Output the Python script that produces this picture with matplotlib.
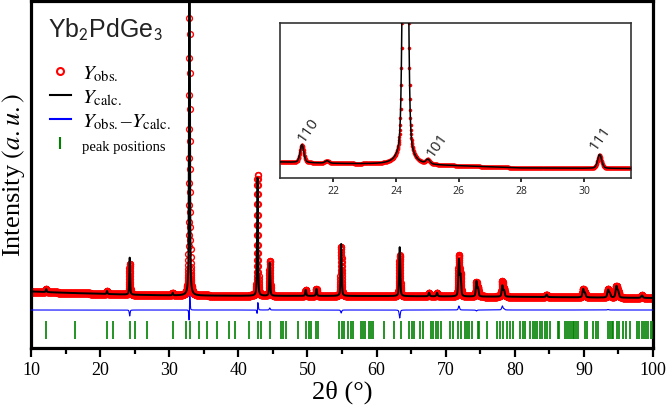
import numpy as np
import matplotlib
matplotlib.use('Agg')
import matplotlib.pyplot as plt
from matplotlib.lines import Line2D
from matplotlib.ticker import MultipleLocator

plt.rcParams['font.family'] = ['Liberation Serif', 'DejaVu Serif']
plt.rcParams['mathtext.fontset'] = 'stix'

# ---------------- main pattern data ----------------
x_start, x_stop, x_step = 10.0, 100.0, 0.01

calc_peak_pos = [12.2, 21.0, 24.28, 30.5, 32.93, 42.78, 44.55, 49.75, 51.3, 54.88,
                 63.35, 67.6, 68.75, 71.92, 72.15, 74.45, 74.68, 78.2, 78.45, 84.6,
                 89.9, 90.15, 93.5, 93.75, 94.7, 94.95, 98.4]
obs_peak_pos = [12.2, 21.0, 24.28, 30.5, 32.933, 42.785, 44.55, 49.75, 51.3, 54.88,
                63.35, 67.6, 68.75, 71.92, 72.15, 74.45, 74.68, 78.2, 78.45, 84.6,
                89.9, 90.15, 93.5, 93.75, 94.7, 94.95, 98.4]
calc_peak_height = [3, 3, 37, 2.5, 420, 118, 33, 6, 7, 52,
                    49, 3.5, 3.5, 36, 20, 15, 8, 11, 6, 2.5,
                    8, 4, 7.5, 4, 11, 6, 2.5]
obs_peak_height = [3, 3, 31, 2.5, 423, 121, 35, 6, 7, 49,
                   41, 3.5, 3.5, 40, 20, 14, 8, 15, 7, 2.5,
                   8, 4, 8, 4, 11, 6, 2.5]
peak_fwhm = [0.15, 0.15, 0.14, 0.15, 0.14, 0.15, 0.16, 0.17, 0.17, 0.17,
             0.18, 0.2, 0.2, 0.2, 0.2, 0.2, 0.2, 0.22, 0.22, 0.24,
             0.25, 0.25, 0.26, 0.26, 0.26, 0.26, 0.28]

bg_x = [10, 15, 20, 25, 30, 40, 60, 80, 100]
bg_y = [4.5, 3.2, 2.2, 1.2, 0.6, 0.2, 0.0, -0.8, -2.0]

diff_offset = -14
tick_low, tick_high = -43, -25

reflection_pos = [12.15, 16.4, 21.02, 21.9, 24.32, 25.05, 26.72, 30.55, 32.4, 33.05,
                  34.33, 35.42, 36.87, 38.62, 39.5, 41.5, 42.9, 43.25, 44.62, 46.12,
                  46.42, 46.95, 48.6, 49.85, 50.2, 50.5, 51.25, 51.55,
                  54.61, 54.95, 55.29, 55.91, 56.25, 56.64, 57.75, 58.08, 58.33, 58.95,
                  59.19, 59.53, 61.07, 62.52, 63.49, 64.69, 65.08, 65.42, 66.28, 66.67,
                  67.83, 68.21, 68.6, 68.94, 69.32, 70.63, 71.01, 71.74, 72.17, 72.8,
                  73.13, 73.42, 73.76, 74.63, 74.87, 75.93, 77.38, 77.86, 78.34, 78.83,
                  79.31, 79.7, 80.76, 81.14, 81.48, 82.2, 82.59, 82.93, 83.26, 83.65,
                  83.99, 84.37, 84.71, 85.1, 86.3, 86.45, 87.27, 87.61, 87.9, 88.09,
                  88.38, 88.57, 88.86, 89.2, 90.16, 90.4, 91.37, 91.71, 92.09, 93.54,
                  93.78, 94.02, 94.26, 94.84, 95.13, 95.71, 96.1, 96.68, 97.74, 98.03,
                  98.36, 98.7, 98.99, 99.33, 99.67, 99.96]

x_ticks = [10, 20, 30, 40, 50, 60, 70, 80, 90, 100]

# ---------------- inset data ----------------
inset_start, inset_stop, inset_step = 20.3, 31.5, 0.008
inset_peak_pos = [21.0, 21.8, 24.3, 25.02, 30.5]
inset_calc_height = [18, 2.5, 700, 4.5, 14]
inset_obs_height = [18, 2.5, 700, 4.0, 13]
inset_fwhm = [0.14, 0.14, 0.14, 0.14, 0.15]
inset_bg_x = [20.3, 22, 24, 26, 28, 31.5]
inset_bg_y = [16, 14.5, 13.3, 12, 10, 9.5]
inset_ticks = [22, 24, 26, 28, 30]
inset_labels = ['110', '101', '111']
inset_label_x = [21.19, 25.31, 30.51]
inset_label_y = [49, 34, 41]


def profile(x, pos, height, fwhm, eta=0.45):
    y = np.zeros_like(x)
    for p, h, f in zip(pos, height, fwhm):
        d = (x - p) / f
        y += h * (eta / (1 + 4 * d ** 2) + (1 - eta) * np.exp(-4 * np.log(2) * d ** 2))
    return y


x = np.arange(x_start, x_stop + x_step / 2, x_step)
bg = np.interp(x, bg_x, bg_y)
calc = bg + profile(x, calc_peak_pos, calc_peak_height, peak_fwhm)
obs = bg + profile(x, obs_peak_pos, obs_peak_height, peak_fwhm)
diff = obs - calc

xi = np.arange(inset_start, inset_stop + inset_step / 2, inset_step)
bgi = np.interp(xi, inset_bg_x, inset_bg_y)
calc_i = bgi + profile(xi, inset_peak_pos, inset_calc_height, inset_fwhm, eta=0.3)
obs_i = bgi + profile(xi, inset_peak_pos, inset_obs_height, inset_fwhm, eta=0.3)

# ---------------- figure ----------------
fig = plt.figure(figsize=(6.66, 4.10), dpi=100)
ax = fig.add_axes([31 / 666, (410 - 349) / 410, 622 / 666, 347.5 / 410])

ax.plot(x, obs, 'o', mfc='none', mec='red', ms=4.2, mew=1.0, zorder=2)
ax.plot(x, calc, '-', color='black', lw=1.4, zorder=3)
ax.plot(x, diff + diff_offset, '-', color='blue', lw=0.8, zorder=3)
ax.vlines(reflection_pos, tick_low, tick_high, color='green', lw=1.2, zorder=3)

ax.set_xlim(10, 100)
ax.set_ylim(-52, 295.5)
ax.set_xticks(x_ticks)
ax.xaxis.set_minor_locator(MultipleLocator(5))
ax.set_yticks([])
ax.tick_params(axis='x', which='major', direction='out', length=6.5, width=1.6,
               labelsize=13, pad=3)
ax.tick_params(axis='x', which='minor', direction='out', length=4.5, width=1.6)
for s in ax.spines.values():
    s.set_linewidth(2.3)

ax.set_xlabel('2θ (°)', fontsize=19, labelpad=1)
ax.set_ylabel(r'Intensity $(a.u.)$', fontsize=19, labelpad=3)

ax.text(0.027, 0.895, r'Yb$_{\mathsf{2}}$PdGe$_{\mathsf{3}}$', transform=ax.transAxes,
        fontsize=18, family=['Liberation Sans', 'DejaVu Sans'], va='baseline',
        color='#222222')

handles = [
    Line2D([], [], ls='none', marker='o', mfc='white', mec='red', ms=5, mew=1.5),
    Line2D([], [], color='black', lw=1.5),
    Line2D([], [], color='blue', lw=1.5),
    Line2D([], [], ls='none', marker='|', color='green', ms=9, mew=1.5),
]
labels = [r'$Y_{\rm obs.}$', r'$Y_{\rm calc.}$', r'$Y_{\rm obs.}$–$Y_{\rm calc.}$',
          'peak positions']
leg = ax.legend(handles, labels, loc='upper left', bbox_to_anchor=(0.0305, 0.818),
                frameon=False, fontsize=15, borderaxespad=0, borderpad=0,
                handlelength=1.0, handletextpad=0.55, labelspacing=0.2)
leg.get_texts()[3].set_fontsize(10.5)

# ---------------- inset ----------------
ins = fig.add_axes([280 / 666, (410 - 179) / 410, 351 / 666, 155 / 410])
ins.set_facecolor('white')
ins.plot(xi, obs_i, 'o', color='red', ms=2.6, mew=0, zorder=2)
ins.plot(xi, calc_i, '-', color='black', lw=1.1, zorder=3)
ins.set_xlim(inset_start, inset_stop)
ins.set_ylim(0, 155)
ins.set_xticks(inset_ticks)
ins.set_yticks([])
ins.tick_params(axis='x', direction='out', length=3, width=1.3, labelsize=7.5, pad=2,
                colors='#222222')
for lab in ins.get_xticklabels():
    lab.set_family(['Open Sans', 'DejaVu Sans'])
for s in ins.spines.values():
    s.set_linewidth(1.2)
    s.set_color('#333333')
for t, lx, ly in zip(inset_labels, inset_label_x, inset_label_y):
    ins.text(lx, ly, t, rotation=55, ha='center', va='center', fontsize=11,
             family=['Open Sans', 'DejaVu Sans'], color='#222222')

fig.savefig('out.png', dpi=100)
